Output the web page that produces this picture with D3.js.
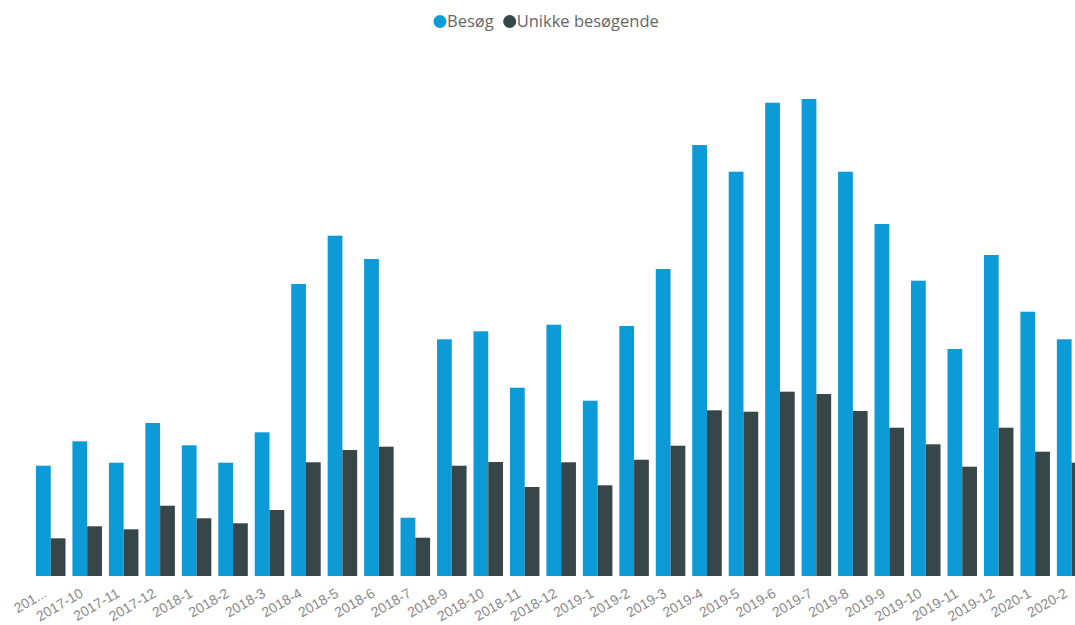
<!DOCTYPE html>
<html>
<head>
<meta charset="utf-8">
<script src="https://cdn.jsdelivr.net/npm/d3@7"></script>
<style>
  body { margin: 0; background: #fff; overflow: hidden; }
  svg { display: block; font-family: "Segoe UI", "Open Sans", sans-serif; }
  .axis text { fill: #8a8a8a; font-size: 14px; }
  .legend text { fill: #666; font-size: 16.5px; }
</style>
</head>
<body>
<svg id="chart" width="1075" height="625"></svg>
<script>
// categories as labelled on the x axis (first label is truncated in the original)
var months = ["201...", "2017-10", "2017-11", "2017-12", "2018-1", "2018-2", "2018-3",
    "2018-4", "2018-5", "2018-6", "2018-7", "2018-9", "2018-10", "2018-11", "2018-12",
    "2019-1", "2019-2", "2019-3", "2019-4", "2019-5", "2019-6", "2019-7", "2019-8",
    "2019-9", "2019-10", "2019-11", "2019-12", "2020-1", "2020-2"];

var series = ["Besøg", "Unikke besøgende"];
var colors = ["#0d9bd8", "#374649"];

var besog = [1103, 1347, 1133, 1530, 1307, 1133, 1437, 2920, 3403, 3170, 583, 2367,
    2447, 1883, 2513, 1753, 2500, 3070, 4310, 4043, 4733, 4770, 4043, 3520, 2953,
    2270, 3210, 2643, 2367];

var unikke = [377, 497, 467, 703, 577, 527, 660, 1137, 1260, 1293, 383, 1103, 1140,
    890, 1137, 907, 1163, 1303, 1657, 1643, 1843, 1820, 1650, 1483, 1317, 1093, 1483,
    1243, 1133];

var svg = d3.select("#chart");

var data = months.map(function (m, i) {
    return {month: m, values: [besog[i], unikke[i]]};
});

// plot runs past the right edge, like the scrolled original
var step = 36.46;
var x = d3.scaleBand()
    .domain(months)
    .range([32.5, 32.5 + step * months.length])
    .paddingInner(0.19)
    .paddingOuter(0.095);

var xSub = d3.scaleBand()
    .domain(series)
    .range([0, x.bandwidth()]);

var y = d3.scaleLinear()
    .domain([0, 5000])
    .range([576, 76]);

var g = svg.append("g");

g.selectAll(".month")
    .data(data)
    .enter().append("g")
    .attr("class", "month")
    .attr("transform", function (d) { return "translate(" + x(d.month) + ",0)"; })
    .selectAll("rect")
    .data(function (d) { return d.values.map(function (v, j) { return {key: series[j], value: v, c: colors[j]}; }); })
    .enter().append("rect")
    .attr("x", function (d) { return xSub(d.key); })
    .attr("y", function (d) { return y(d.value); })
    .attr("width", xSub.bandwidth())
    .attr("height", function (d) { return y(0) - y(d.value); })
    .attr("fill", function (d) { return d.c; });

var axis = g.append("g")
    .attr("class", "axis")
    .attr("transform", "translate(0," + y(0) + ")")
    .call(d3.axisBottom(x).tickSize(0).tickPadding(0));

axis.select(".domain").remove();
axis.selectAll("text")
    .attr("text-anchor", "end")
    .attr("dy", null)
    .attr("y", 0)
    .attr("transform", "translate(-3,20) rotate(-30)");

// legend
var legend = svg.append("g").attr("class", "legend");
var lx = 433;
series.forEach(function (s, i) {
    legend.append("circle")
        .attr("cx", lx + 7)
        .attr("cy", 21.5)
        .attr("r", 6.5)
        .attr("fill", colors[i]);
    var t = legend.append("text")
        .attr("x", lx + 14)
        .attr("y", 27)
        .text(s);
    lx += 14 + t.node().getComputedTextLength() + 9;
});
</script>
</body>
</html>
